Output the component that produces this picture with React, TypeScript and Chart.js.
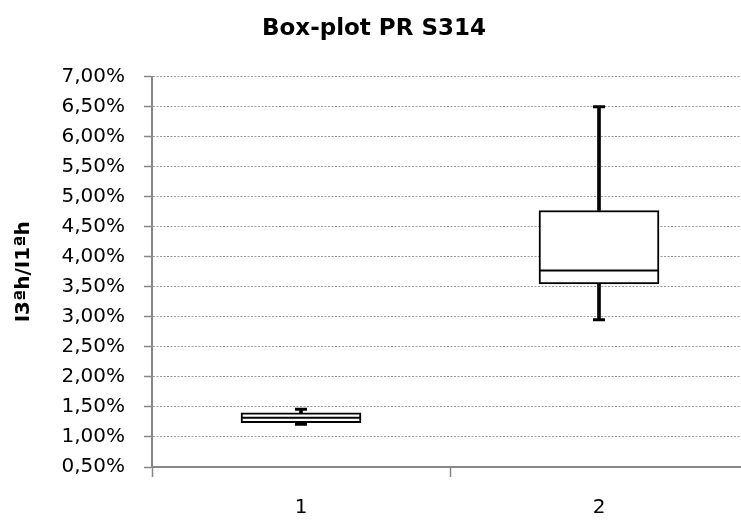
import React, { useEffect, useRef } from 'react';
import { Chart, registerables } from 'chart.js';

Chart.register(...registerables);

// ---- data ----
const categories = ['1', '2'];
const whiskerLow = [1.21, 2.95];
const quartile1 = [1.24, 3.55];
const medians = [1.32, 3.77];
const quartile3 = [1.4, 4.77];
const whiskerHigh = [1.46, 6.5];

const yMin = 0.5;
const yMax = 7;
const yStep = 0.5;

const chartTitle = 'Box-plot PR S314';
const yAxisTitle = 'I3ªh/I1ªh';

const FONT = '"DejaVu Sans", sans-serif';
const AXIS_GREY = '#878787';
const GRID_GREY = '#9a9a9a';

export default function App() {
  const canvasRef = useRef<HTMLCanvasElement | null>(null);

  useEffect(() => {
    const canvas = canvasRef.current;
    if (!canvas) return;

    const boxes = categories.map((_, i) => [quartile1[i], quartile3[i]]);
    const upperWhisker = categories.map((_, i) => [quartile3[i], whiskerHigh[i]]);
    const lowerWhisker = categories.map((_, i) => [whiskerLow[i], quartile1[i]]);

    const chart = new Chart(canvas, {
      type: 'bar',
      data: {
        labels: categories,
        datasets: [
          {
            type: 'line',
            label: 'median',
            data: medians,
            showLine: false,
            pointStyle: 'line',
            pointRadius: 60,
            pointHoverRadius: 60,
            pointBorderWidth: 2,
            borderColor: '#000',
            backgroundColor: '#000',
            order: 0,
          } as any,
          {
            type: 'line',
            label: 'max',
            data: whiskerHigh,
            showLine: false,
            pointStyle: 'line',
            pointRadius: 6,
            pointHoverRadius: 6,
            pointBorderWidth: 3,
            borderColor: '#000',
            backgroundColor: '#000',
            order: 1,
          } as any,
          {
            type: 'line',
            label: 'min',
            data: whiskerLow,
            showLine: false,
            pointStyle: 'line',
            pointRadius: 6,
            pointHoverRadius: 6,
            pointBorderWidth: 3,
            borderColor: '#000',
            backgroundColor: '#000',
            order: 1,
          } as any,
          {
            label: 'box',
            data: boxes,
            backgroundColor: '#ffffff',
            borderColor: '#000',
            borderWidth: 2,
            borderSkipped: false,
            barThickness: 120,
            grouped: false,
            order: 2,
          } as any,
          {
            label: 'upper whisker',
            data: upperWhisker,
            backgroundColor: '#000',
            borderWidth: 0,
            barThickness: 3,
            grouped: false,
            order: 3,
          } as any,
          {
            label: 'lower whisker',
            data: lowerWhisker,
            backgroundColor: '#000',
            borderWidth: 0,
            barThickness: 3,
            grouped: false,
            order: 3,
          } as any,
        ],
      },
      options: {
        responsive: false,
        animation: false,
        devicePixelRatio: 1,
        layout: { autoPadding: false, padding: { left: 0, right: 12, top: 0, bottom: 0 } },
        plugins: {
          legend: { display: false },
          tooltip: { enabled: false },
          title: {
            display: true,
            text: chartTitle,
            color: '#000',
            font: { family: FONT, size: 23, weight: 'bold', lineHeight: 1.2 },
            padding: { top: 15, bottom: 34 },
          },
        },
        scales: {
          x: {
            type: 'category',
            offset: true,
            afterFit: (s: any) => {
              s.height = 53;
            },
            grid: {
              display: true,
              drawOnChartArea: false,
              offset: true,
              tickLength: 10,
              tickColor: AXIS_GREY,
              tickWidth: 1.5,
              color: AXIS_GREY,
            },
            border: { display: true, color: AXIS_GREY, width: 2 },
            ticks: {
              color: '#000',
              padding: 19,
              font: { family: FONT, size: 20, lineHeight: 1.2 },
            },
          },
          y: {
            type: 'linear',
            min: yMin,
            max: yMax,
            afterFit: (s: any) => {
              s.width = 152;
            },
            title: {
              display: true,
              text: yAxisTitle,
              color: '#000',
              font: { family: FONT, size: 20, weight: 'bold', lineHeight: 1.2 },
              padding: { top: 12, bottom: 0 },
            },
            grid: {
              color: GRID_GREY,
              lineWidth: 1,
              tickLength: 8,
              tickColor: AXIS_GREY,
              tickWidth: 1.5,
              tickBorderDash: [],
            },
            border: { display: true, color: AXIS_GREY, width: 2, dash: [2, 1.5] },
            ticks: {
              stepSize: yStep,
              color: '#000',
              padding: 19,
              font: { family: FONT, size: 20, lineHeight: 1.2 },
              callback: (v: any) => Number(v).toFixed(2).replace('.', ',') + '%',
            },
          },
        },
      } as any,
    });

    return () => chart.destroy();
  }, []);

  return (
    <div
      style={{
        position: 'absolute',
        left: 0,
        top: 0,
        width: 741,
        height: 520,
        overflow: 'hidden',
        background: '#ffffff',
      }}
    >
      <canvas ref={canvasRef} width={760} height={520} style={{ display: 'block' }} />
    </div>
  );
}
